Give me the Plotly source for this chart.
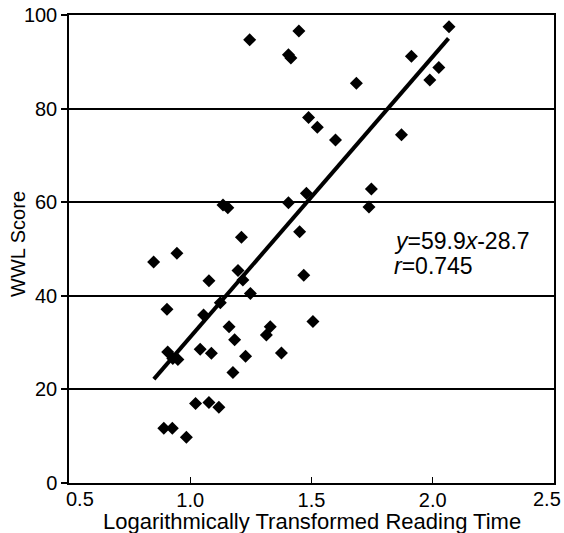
import plotly.graph_objects as go

# Scatter data: log-transformed reading time vs WWL score
reading_time = [1.245, 1.448, 1.405, 1.415, 1.685, 1.912, 2.067, 2.025, 1.988, 1.488,
                1.524, 1.599, 1.871, 1.747, 1.737, 1.479, 1.405, 1.451, 1.468, 1.506,
                1.135, 1.155, 1.211, 0.945, 0.849, 1.197, 1.217, 1.077, 1.248, 1.124,
                0.904, 1.055, 1.160, 1.330, 1.314, 1.183, 0.907, 0.928, 0.949, 1.041,
                1.087, 1.228, 1.376, 1.176, 1.022, 1.077, 1.118, 0.891, 0.926, 0.984]
wwl_score = [94.7, 96.6, 91.5, 90.8, 85.4, 91.2, 97.5, 88.8, 86.1, 78.1,
             76.0, 73.3, 74.4, 62.8, 59.0, 61.9, 59.9, 53.7, 44.4, 34.5,
             59.4, 58.8, 52.5, 49.1, 47.2, 45.4, 43.4, 43.2, 40.5, 38.5,
             37.1, 35.9, 33.4, 33.4, 31.6, 30.6, 28.0, 26.6, 26.4, 28.6,
             27.7, 27.1, 27.8, 23.6, 17.0, 17.2, 16.2, 11.7, 11.7, 9.8]

# Regression line endpoints (y = 59.9x - 28.7)
fit_x = [0.85, 2.065]
fit_y = [22.2, 95.0]

x_ticks = [0.5, 1.0, 1.5, 2.0, 2.5]
x_tick_labels = ["0.5", "1.0", "1.5", "2.0", "2.5"]
y_ticks = [0, 20, 40, 60, 80, 100]
y_tick_labels = ["0", "20", "40", "60", "80", "100"]

x_title = "Logarithmically Transformed Reading Time"
y_title = "WWL Score"

FONT = "Liberation Sans, Arial, Helvetica, sans-serif"

fig = go.Figure()
fig.add_trace(go.Scatter(
    x=fit_x, y=fit_y, mode="lines",
    line=dict(color="black", width=4),
    showlegend=False, hoverinfo="skip"))
fig.add_trace(go.Scatter(
    x=reading_time, y=wwl_score, mode="markers",
    marker=dict(symbol="diamond", size=10, color="black"),
    showlegend=False))

fig.add_annotation(x=1.83, y=51.8, xref="x", yref="y",
                   text="<i>y</i>=59.9<i>x</i>-28.7", showarrow=False,
                   xanchor="left", yanchor="middle",
                   font=dict(family=FONT, size=23, color="black"))
fig.add_annotation(x=1.83, y=46.3, xref="x", yref="y",
                   text="<i>r</i>=0.745", showarrow=False,
                   xanchor="left", yanchor="middle",
                   font=dict(family=FONT, size=23, color="black"))

# Axis titles
fig.add_annotation(x=0.5, y=-0.082, xref="paper", yref="paper",
                   text=x_title, showarrow=False,
                   xanchor="center", yanchor="middle",
                   font=dict(family=FONT, size=22, color="black"))
fig.add_annotation(x=-0.105, y=0.511, xref="paper", yref="paper",
                   text=y_title, showarrow=False, textangle=-90,
                   xanchor="center", yanchor="middle",
                   font=dict(family=FONT, size=20, color="black"))

# End x tick labels, nudged inward as in the original
axis_ticktext = [t if i not in (0, len(x_tick_labels) - 1) else ""
                 for i, t in enumerate(x_tick_labels)]
fig.add_annotation(x=0.0227, y=-0.035, xref="paper", yref="paper",
                   text=x_tick_labels[0], showarrow=False,
                   xanchor="center", yanchor="middle",
                   font=dict(family=FONT, size=20, color="black"))
fig.add_annotation(x=0.985, y=-0.035, xref="paper", yref="paper",
                   text=x_tick_labels[-1], showarrow=False,
                   xanchor="center", yanchor="middle",
                   font=dict(family=FONT, size=20, color="black"))

fig.update_layout(
    width=564, height=533,
    margin=dict(l=69, r=10, t=15, b=50, autoexpand=False),
    paper_bgcolor="white", plot_bgcolor="white",
    font=dict(family=FONT, color="black", size=20),
    xaxis=dict(
        range=[0.5, 2.5], tickvals=x_ticks, ticktext=axis_ticktext,
        showgrid=False, zeroline=False, automargin=False,
        showline=True, linecolor="black", linewidth=1.5, mirror=True,
        ticks="inside", ticklen=6, tickcolor="black", tickwidth=1,
        tickfont=dict(family=FONT, size=20, color="black"),
        ticklabelstandoff=-2,
    ),
    yaxis=dict(
        range=[0, 100], tickvals=y_ticks, ticktext=y_tick_labels,
        showgrid=True, gridcolor="black", gridwidth=1.5, zeroline=False,
        automargin=False,
        showline=True, linecolor="black", linewidth=1.5, mirror=True,
        ticks="outside", ticklen=6, tickcolor="black", tickwidth=1.5,
        tickfont=dict(family=FONT, size=20, color="black"),
    ),
)

fig.write_html("out.html", config={"displayModeBar": False},
               post_script="document.body.style.margin='0';document.body.style.overflow='hidden';")
